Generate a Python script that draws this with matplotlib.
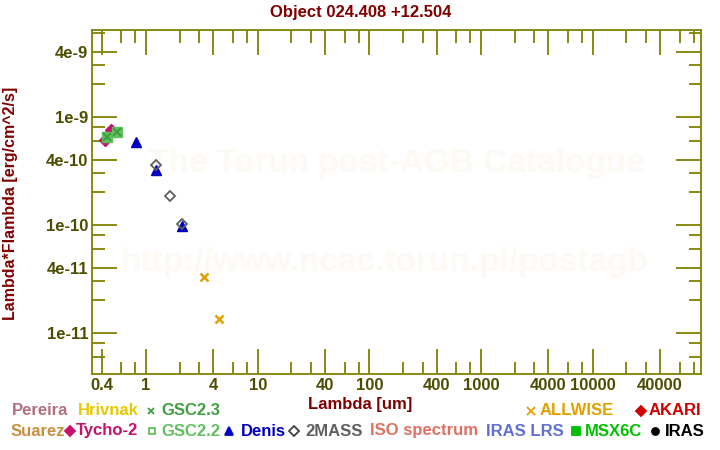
import matplotlib
matplotlib.use("Agg")
import matplotlib.pyplot as plt
from matplotlib.lines import Line2D
from matplotlib.ticker import FixedLocator, FixedFormatter, NullFormatter
import numpy as np

# ---- data (wavelength in um, lambda*F_lambda in erg/cm^2/s) ----
tycho_x = [0.430, 0.483]
tycho_y = [6.12e-10, 7.58e-10]
gsc22_x = [0.451, 0.553]
gsc22_y = [6.57e-10, 7.31e-10]
gsc23_x = [0.451, 0.553]
gsc23_y = [6.57e-10, 7.31e-10]
denis_x = [0.814, 1.23, 2.11]
denis_y = [5.83e-10, 3.23e-10, 9.8e-11]
twomass_x = [1.24, 1.65, 2.11]
twomass_y = [3.61e-10, 1.85e-10, 1.02e-10]
allwise_x = [3.32, 4.53]
allwise_y = [3.28e-11, 1.34e-11]

x_major = [0.4, 1, 4, 10, 40, 100, 400, 1000, 4000, 10000, 40000]
x_labels = ["0.4", "1", "4", "10", "40", "100", "400", "1000", "4000", "10000", "40000"]
y_major = [1e-11, 4e-11, 1e-10, 4e-10, 1e-9, 4e-9]
y_labels = ["1e-11", "4e-11", "1e-10", "4e-10", "1e-9", "4e-9"]

W, H = 720, 450
plt.rcParams['font.family'] = ['Liberation Sans', 'DejaVu Sans']
plt.rcParams['font.weight'] = 'bold'

fig = plt.figure(figsize=(7.2, 4.5), dpi=100)
L, R, T, B = 92.5, 701, 29.5, 374
ax = fig.add_axes([L / W, 1 - B / H, (R - L) / W, (B - T) / H])

OLIVE = '#808000'
TICKC = '#4d4d00'
MAROON = '#800000'

ax.set_xscale('log')
ax.set_yscale('log')
ax.set_xlim(0.332, 93000)
ax.set_ylim(4.17e-12, 6.45e-9)

# watermark
ax.text(0.5, 0.61, "The Torun post-AGB Catalogue", transform=ax.transAxes,
        ha='center', va='center', fontsize=24, color='#fdfaf5', fontweight='bold', zorder=0)
ax.text(0.48, 0.325, "http://www.ncac.torun.pl/postagb", transform=ax.transAxes,
        ha='center', va='center', fontsize=24, color='#fdfaf5', fontweight='bold', zorder=0)

# data
ax.plot(gsc22_x, gsc22_y, ls='none', marker='s', ms=7, mfc='#60c060', mec='#60c060', zorder=3)
ax.plot(gsc23_x, gsc23_y, ls='none', marker='x', ms=6, mew=1.5, color='#40a040', zorder=4)
ax.plot(tycho_x, tycho_y, ls='none', marker='D', ms=6, color='#c8106e', zorder=2)
ax.plot(denis_x, denis_y, ls='none', marker='^', ms=7, color='#0000c0', zorder=3)
ax.plot(twomass_x, twomass_y, ls='none', marker='D', ms=5.5, mfc='none', mec='#606060', mew=1.3, zorder=4)
ax.plot(allwise_x, allwise_y, ls='none', marker='x', ms=6, mew=1.8, color='#e0a000', zorder=3)

# ticks
minor_mult = [2, 3, 6, 8]
x_minor = [m * 10.0 ** k for k in range(-1, 6) for m in minor_mult]
y_minor = [m * 10.0 ** k for k in range(-12, -8) for m in minor_mult]
ax.xaxis.set_major_locator(FixedLocator(x_major))
ax.xaxis.set_major_formatter(FixedFormatter(x_labels))
ax.xaxis.set_minor_locator(FixedLocator(x_minor))
ax.xaxis.set_minor_formatter(NullFormatter())
ax.yaxis.set_major_locator(FixedLocator(y_major))
ax.yaxis.set_major_formatter(FixedFormatter(y_labels))
ax.yaxis.set_minor_locator(FixedLocator(y_minor))
ax.yaxis.set_minor_formatter(NullFormatter())

ax.tick_params(which='both', direction='in', top=True, right=True, color=OLIVE, width=1.3)
ax.tick_params(which='major', length=18, labelsize=12, labelcolor=TICKC, pad=3)
ax.tick_params(which='minor', length=9)
for s in ax.spines.values():
    s.set_color(OLIVE)
    s.set_linewidth(1.3)
for lab in ax.get_xticklabels() + ax.get_yticklabels():
    lab.set_fontweight('bold')

def px(x, y):
    return x / W, 1 - y / H

# title and axis labels
fig.text(*px(361, 12), "Object 024.408 +12.504", ha='center', va='center',
         fontsize=12, color=MAROON, fontweight='bold')
fig.text(*px(360, 405), "Lambda [um]", ha='center', va='center',
         fontsize=12, color=MAROON, fontweight='bold')
fig.text(*px(11, 203), "Lambda*Flambda [erg/cm^2/s]", ha='center', va='center',
         rotation=90, fontsize=11.5, color=MAROON, fontweight='bold')

# legend
r1, r2 = 410.5, 431
items_text = [
    (12, r1, "Pereira", '#b07080'),
    (78, r1, "Hrivnak", '#e8c800'),
    (161, r1, "GSC2.3", '#40a040'),
    (540, r1, "ALLWISE", '#e0a000'),
    (649, r1, "AKARI", '#d00000'),
    (11, r2, "Suarez", '#c89040'),
    (76, r2, "Tycho-2", '#c8106e'),
    (161, r2, "GSC2.2", '#60c060'),
    (240.5, r2, "Denis", '#0000c0'),
    (305.5, r2, "2MASS", '#606060'),
    (370, r2, "ISO spectrum", '#e07060'),
    (485.5, r2, "IRAS LRS", '#6070d0'),
    (585, r2, "MSX6C", '#00c000'),
    (665, r2, "IRAS", '#000000'),
]
for x, y, t, c in items_text:
    fig.text(*px(x, y), t, ha='left', va='center', fontsize=12, color=c, fontweight='bold')

markers = [
    (151, r1, 'x', '#40a040', True, 5),
    (530.5, r1, 'x', '#e0a000', True, 6),
    (641, r1, 'D', '#d00000', True, 5),
    (70, r2, 'D', '#c8106e', True, 5),
    (151.5, r2, 's', '#60c060', False, 5),
    (229, r2, '^', '#0000c0', True, 6),
    (294, r2, 'D', '#404040', False, 5),
    (576, r2, 's', '#00c000', True, 6),
    (655, r2, 'o', '#000000', True, 5),
]
for x, y, m, c, filled, s in markers:
    fx, fy = px(x, y)
    ln = Line2D([fx], [fy], transform=fig.transFigure, marker=m, ms=s, ls='none',
                mfc=c if filled else 'none', mec=c, mew=1.3)
    fig.add_artist(ln)

fig.savefig("out.png", dpi=100)
